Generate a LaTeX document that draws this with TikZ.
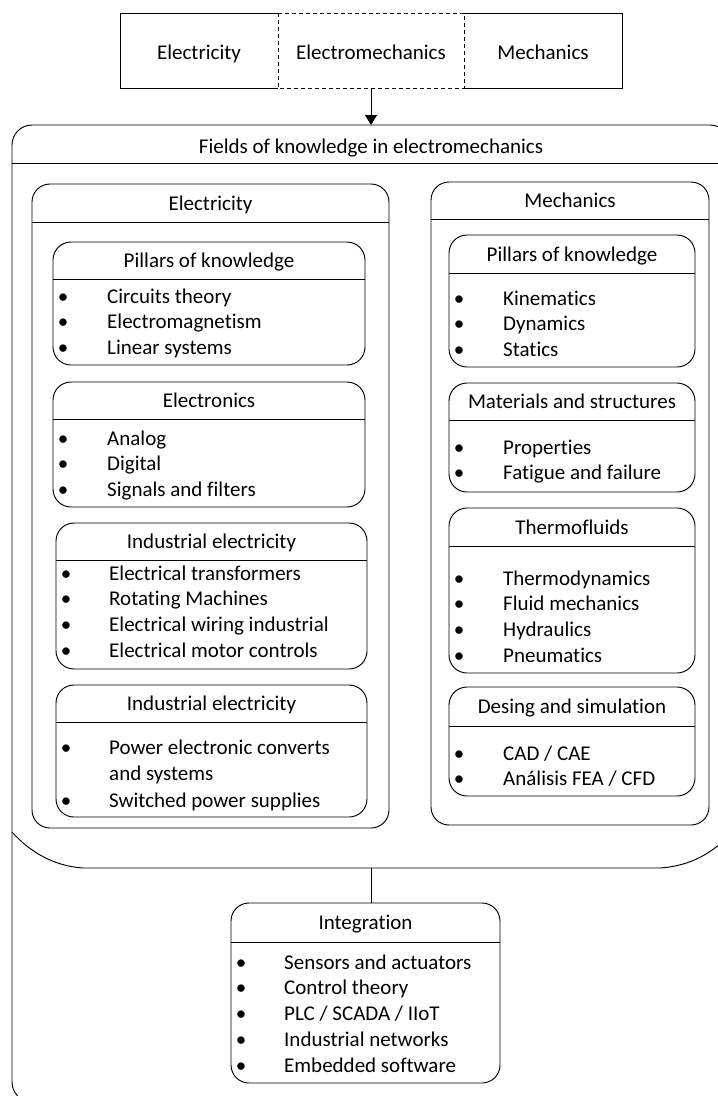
\documentclass[tikz,border=0pt]{standalone}
\usepackage{fontspec}
\setmainfont{Carlito}[Ligatures=NoCommon]
\usetikzlibrary{fit,arrows.meta}

\tikzset{
  wire/.style={line width=0.95pt},
  card/.style={draw, line width=0.95pt, rounded corners=18pt, inner sep=0pt, outer sep=0pt},
  frame/.style={inner sep=0pt, outer sep=0pt},
  ttl/.style={anchor=base, inner sep=0pt},
  bul/.style={anchor=base, inner sep=0pt},
  itm/.style={anchor=base west, inner sep=0pt},
}

% rounded card with a header strip: name, x1, y1, x2, y2, header line y, title
\newcommand\cardbox[7]{%
  \node[card, fit={(#2,#3) (#4,#5)}] (#1) {};
  \draw[wire] (#2,#6) -- (#4,#6);
  \node[ttl] (#1-t) at ({(#2+#4)/2}, {(#3+#6)/2+7}) {#7};
}

% bullet list: name, bullet x, text x, first baseline y, items
\newcommand\blist[5]{%
  \foreach \t [count=\i from 0] in {#5} {
    \node[bul] (#1-b\i) at (#2, {#4+\i*25.8}) {\textbullet};
    \node[itm] (#1-i\i) at (#3, {#4+\i*25.8}) {\t};
  }%
}

\begin{document}
\begin{tikzpicture}[x=1pt, y=-1pt, font=\fontsize{21pt}{25.8pt}\selectfont]
\useasboundingbox (0,0) rectangle (718,1096);
\begin{scope}
\clip (0,0) rectangle (718,1096);

% ---- top strip: three disciplines ----
\node[frame, fit={(120,13) (622,88)}] (head) {};
\draw[wire] (278,13) -- (120,13) -- (120,88) -- (278,88);
\draw[wire] (464,13) -- (622,13) -- (622,88) -- (464,88);
\draw[wire, dash pattern=on 4pt off 3pt] (278,13) rectangle (464,88);
\node[ttl] (head-a) at (199,59) {Electricity};
\node[ttl] (head-b) at (371,59) {Electromechanics};
\node[ttl] (head-c) at (543,59) {Mechanics};

% ---- outer container ----
\draw[wire, rounded corners=20pt] (12,1102) -- (12,125) -- (730,125) -- (730,1102) -- cycle;

% ---- fields of knowledge block ----
\node[frame, fit={(12,125) (730,868)}] (fields) {};
\draw[wire] (12,163) -- (730,163);
\node[ttl] (fields-t) at (371,153) {Fields of knowledge in electromechanics};
\draw[wire] (12,832) .. controls (28,850) and (52,866) .. (83,868) -- (660,868)
  .. controls (691,866) and (714,852) .. (730,834);

% ---- electricity column ----
\cardbox{elec}{32}{184}{389}{828}{222}{Electricity}
\cardbox{epk}{53}{242}{365}{365}{279}{Pillars of knowledge}
\blist{epk}{63}{107}{303}{Circuits theory, Electromagnetism, Linear systems}
\cardbox{eel}{53}{382}{365}{507}{419}{Electronics}
\blist{eel}{63}{107}{445}{Analog, Digital, Signals and filters}
\cardbox{ie1}{56}{523}{367}{669}{560}{Industrial electricity}
\blist{ie1}{66}{109}{580}{Electrical transformers, Rotating Machines, Electrical wiring industrial, Electrical motor controls}
\cardbox{ie2}{56}{685}{367}{817}{722}{Industrial electricity}
\node[bul] (ie2-b0) at (66,754) {\textbullet};
\node[itm] (ie2-i0) at (109,754) {Power electronic converts};
\node[itm] (ie2-i0c) at (109,780) {and systems};
\node[bul] (ie2-b1) at (66,807) {\textbullet};
\node[itm] (ie2-i1) at (109,807) {Switched power supplies};

% ---- mechanics column ----
\cardbox{mech}{431}{182}{709}{825}{219}{Mechanics}
\cardbox{mpk}{449}{235}{695}{367}{273}{Pillars of knowledge}
\blist{mpk}{459}{503}{305}{Kinematics, Dynamics, Statics}
\cardbox{mat}{449}{383}{695}{492}{420}{Materials and structures}
\blist{mat}{459}{503}{454}{Properties, Fatigue and failure}
\cardbox{thf}{449}{508}{695}{673}{546}{Thermofluids}
\blist{thf}{459}{503}{585}{Thermodynamics, Fluid mechanics, Hydraulics, Pneumatics}
\cardbox{des}{449}{687}{695}{796}{726}{Desing and simulation}
\blist{des}{459}{503}{760}{CAD / CAE, Análisis FEA / CFD}

% ---- integration ----
\cardbox{integ}{231}{903}{500}{1083}{942}{Integration}
\blist{int}{241}{284}{969}{Sensors and actuators, Control theory, PLC / SCADA / IIoT, Industrial networks, Embedded software}

% ---- connectors ----
\draw[wire, -{Triangle[width=12pt,length=10pt]}] (head.south) -- (fields.north);
\draw[wire] (fields.south) -- (fields.south |- integ.north);
\end{scope}
\end{tikzpicture}
\end{document}
